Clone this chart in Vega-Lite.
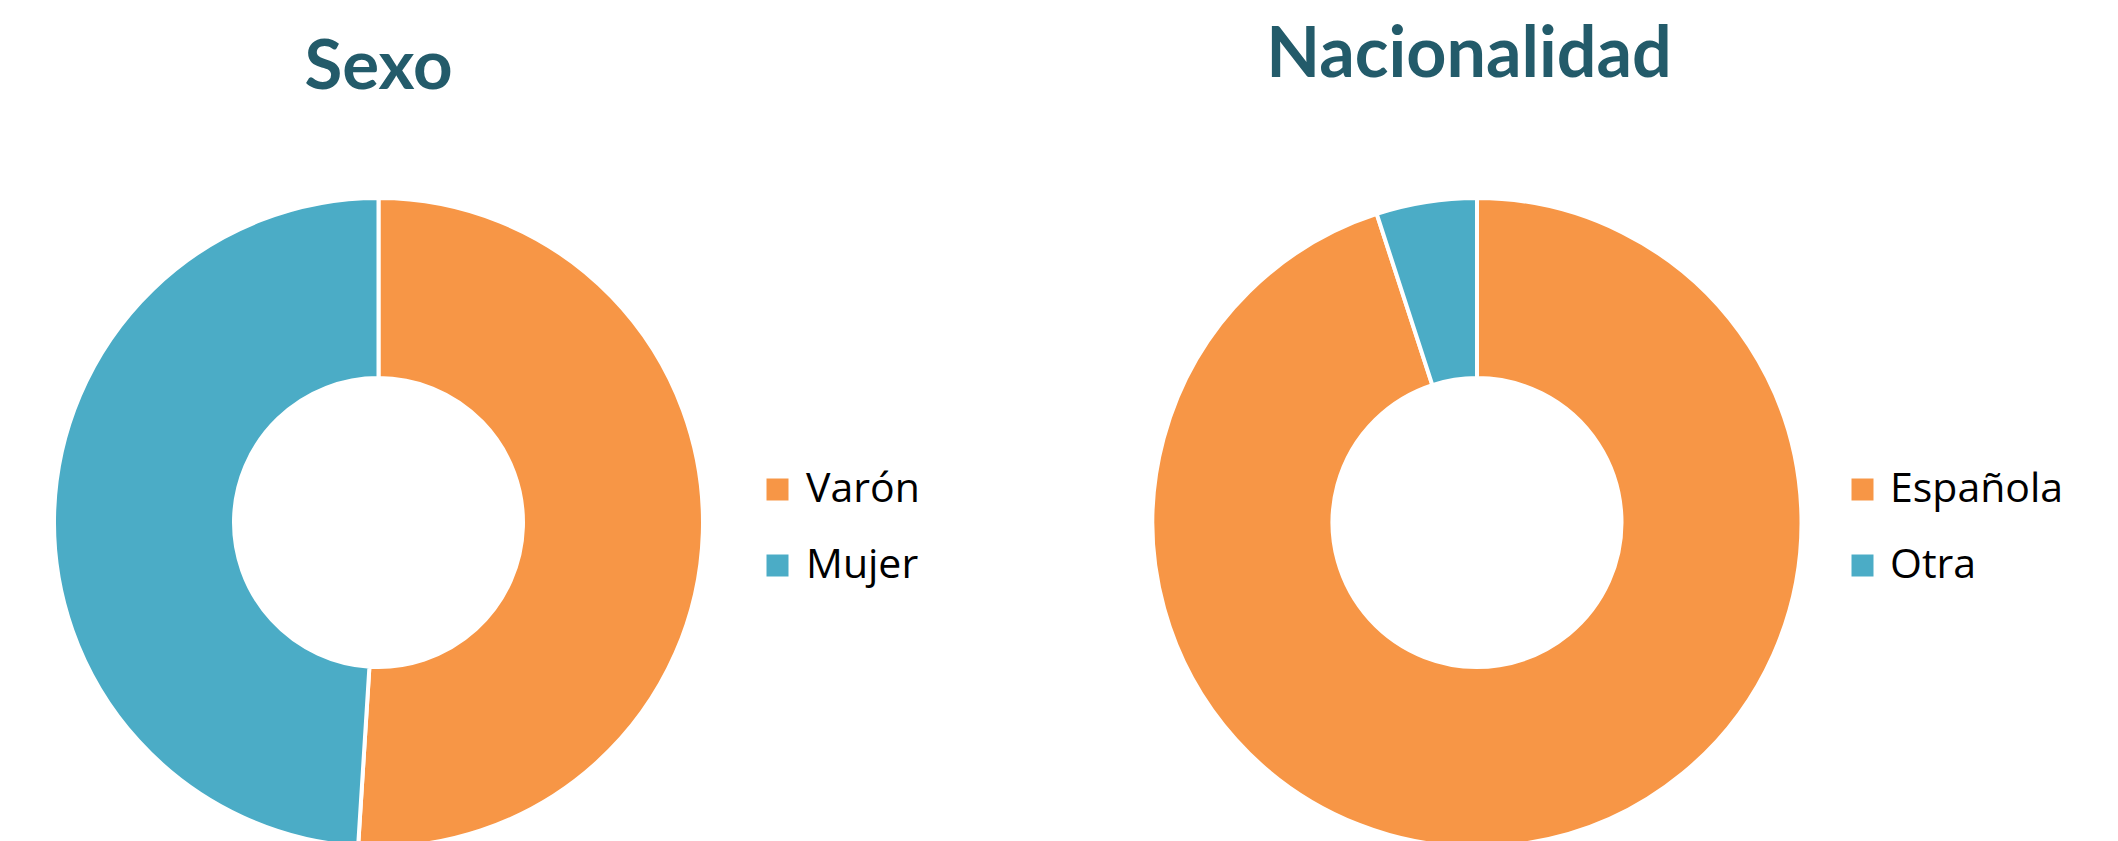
{
  "$schema": "https://vega.github.io/schema/vega-lite/v6.json",
  "autosize": {"type": "pad"},
  "padding": 0,
  "background": "white",
  "config": {"view": {"stroke": null}},
  "spacing": 398,
  "bounds": "flush",
  "resolve": {"scale": {"color": "independent", "theta": "independent"}, "legend": {"color": "independent"}},
  "hconcat": [
    {
      "width": 757,
      "height": 1045,
      "title": {"text": "Sexo", "font": "Lato", "fontSize": 69, "fontWeight": "bold", "color": "#235B6A", "anchor": "middle", "frame": "group", "baseline": "alphabetic", "offset": -158},
      "data": {"values": [
        {"categoria": "Varón", "valor": 51, "orden": 1},
        {"categoria": "Mujer", "valor": 49, "orden": 2}
      ]},
      "mark": {"type": "arc", "outerRadius": 324.5, "innerRadius": 144.5, "stroke": "white", "strokeWidth": 4},
      "encoding": {
        "theta": {"field": "valor", "type": "quantitative", "stack": true},
        "order": {"field": "orden", "type": "quantitative"},
        "color": {
          "field": "categoria", "type": "nominal",
          "scale": {"domain": ["Varón", "Mujer"], "range": ["#F79646", "#4BACC6"]},
          "legend": {"orient": "none", "legendX": 757, "legendY": 469, "title": null, "symbolType": "square", "symbolSize": 484, "symbolStrokeWidth": 0, "labelFont": "Open Sans", "labelFontSize": 41, "labelColor": "black", "labelOffset": 8, "rowPadding": 34, "padding": 0, "labelLimit": 400}
        }
      }
    },
    {
      "width": 644,
      "height": 1045,
      "title": {"text": "Nacionalidad", "font": "Lato", "fontSize": 70, "fontWeight": "bold", "color": "#235B6A", "anchor": "middle", "frame": "group", "baseline": "alphabetic", "offset": -147, "dx": -8},
      "data": {"values": [
        {"categoria": "Española", "valor": 95, "orden": 1},
        {"categoria": "Otra", "valor": 5, "orden": 2}
      ]},
      "mark": {"type": "arc", "outerRadius": 324.5, "innerRadius": 144.5, "stroke": "white", "strokeWidth": 4},
      "encoding": {
        "theta": {"field": "valor", "type": "quantitative", "stack": true},
        "order": {"field": "orden", "type": "quantitative"},
        "color": {
          "field": "categoria", "type": "nominal",
          "scale": {"domain": ["Española", "Otra"], "range": ["#F79646", "#4BACC6"]},
          "legend": {"orient": "none", "legendX": 687, "legendY": 469, "title": null, "symbolType": "square", "symbolSize": 484, "symbolStrokeWidth": 0, "labelFont": "Open Sans", "labelFontSize": 41, "labelColor": "black", "labelOffset": 7, "rowPadding": 34, "padding": 0, "labelLimit": 400}
        }
      }
    }
  ]
}
